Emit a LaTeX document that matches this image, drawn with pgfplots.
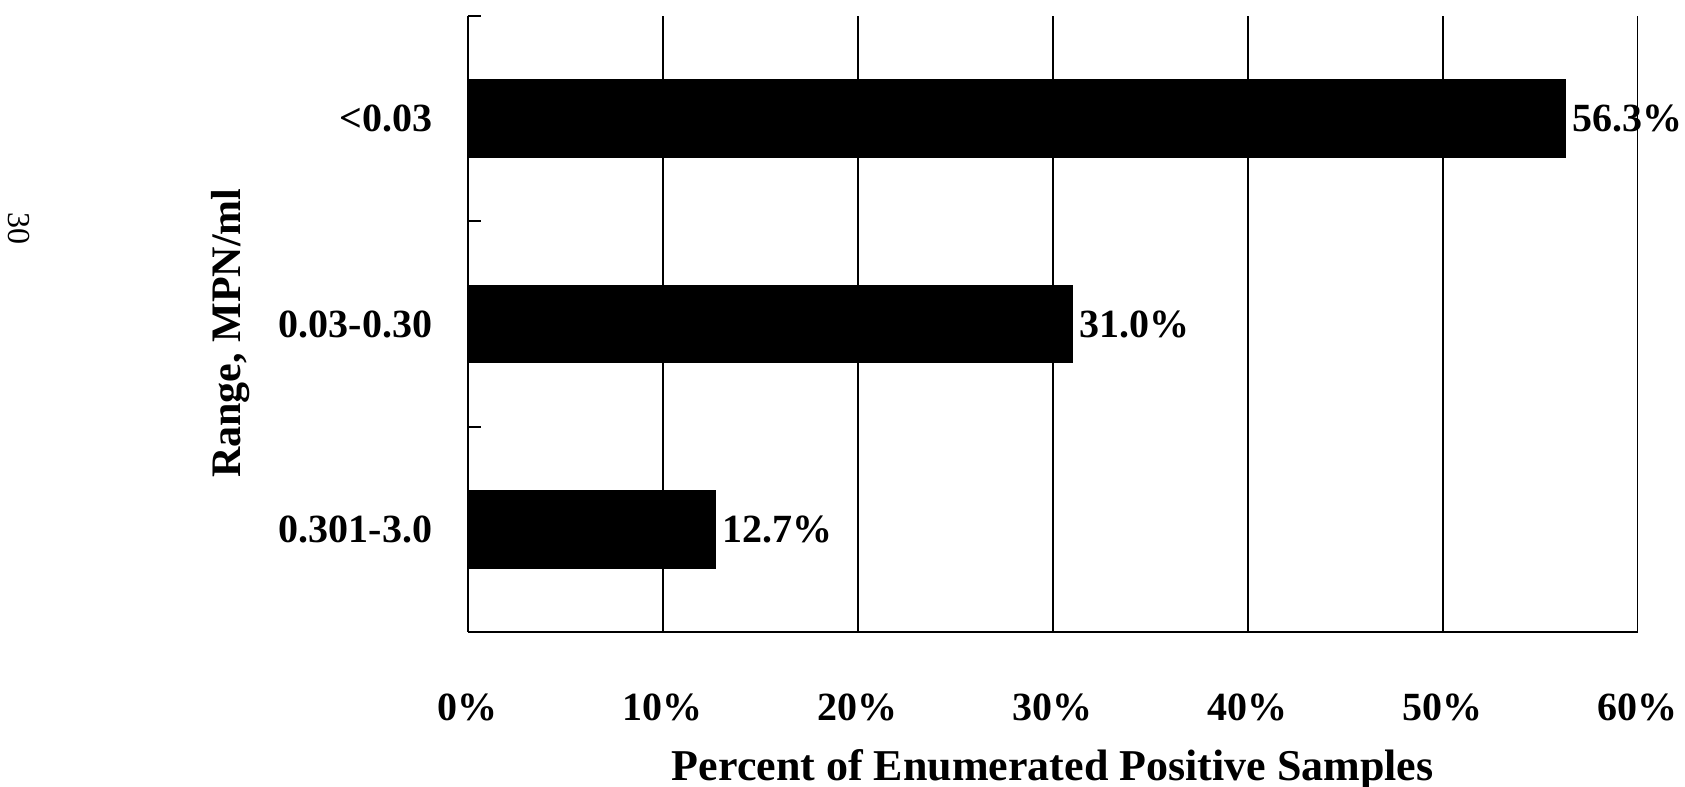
\documentclass[border=0pt]{standalone}
\usepackage{fontspec}
\setmainfont{Liberation Serif}
\usepackage{pgfplots}
\pgfplotsset{compat=1.18}
\begin{document}
\begin{tikzpicture}
\useasboundingbox (-117pt,-38.75pt) rectangle (304.25pt,158pt);
\begin{axis}[
  scale only axis,
  width=292.4pt, height=154pt,
  xbar, bar width=0.375,
  xmin=0, xmax=60, ymin=-0.5, ymax=2.5,
  axis x line*=bottom, axis y line*=left,
  axis line style={line width=0.7pt},
  xtick={0,10,...,60},
  xticklabels={0\%,10\%,20\%,30\%,40\%,50\%,60\%},
  xmajorgrids, major grid style={black,line width=0.45pt},
  ytick={0,1,2},
  yticklabels={0.301-3.0,0.03-0.30,<0.03},
  minor ytick={-0.5,0.5,1.5,2.5},
  major tick length=0pt,
  minor tick length=3.3pt,
  tick align=inside,
  tick style={black,line width=0.5pt},
  ticklabel style={font=\fontsize{10}{12}\selectfont\bfseries},
  xticklabel style={yshift=-12pt},
  yticklabel style={xshift=-5.4pt},
  xlabel={Percent of Enumerated Positive Samples},
  xlabel style={at={(axis description cs:0.5,0)},anchor=center,yshift=-34.5pt,font=\fontsize{11}{13}\selectfont\bfseries},
  ylabel={Range, MPN/ml},
  ylabel style={at={(axis description cs:-0.203,0.485)},anchor=center,font=\fontsize{10.5}{12}\selectfont\bfseries},
  point meta=explicit symbolic,
  nodes near coords={\pgfplotspointmeta\%},
  every node near coord/.append style={anchor=west,inner sep=1.5pt,font=\fontsize{10}{12}\selectfont\bfseries,black},
  clip=false,
]
\addplot[fill=black,draw=black] coordinates {(12.7,0) [12.7] (31.0,1) [31.0] (56.3,2) [56.3]};
\node[rotate=-90,font=\fontsize{8}{9}\selectfont] at (axis description cs:-0.384,0.655) {30};
\end{axis}
\end{tikzpicture}
\end{document}
